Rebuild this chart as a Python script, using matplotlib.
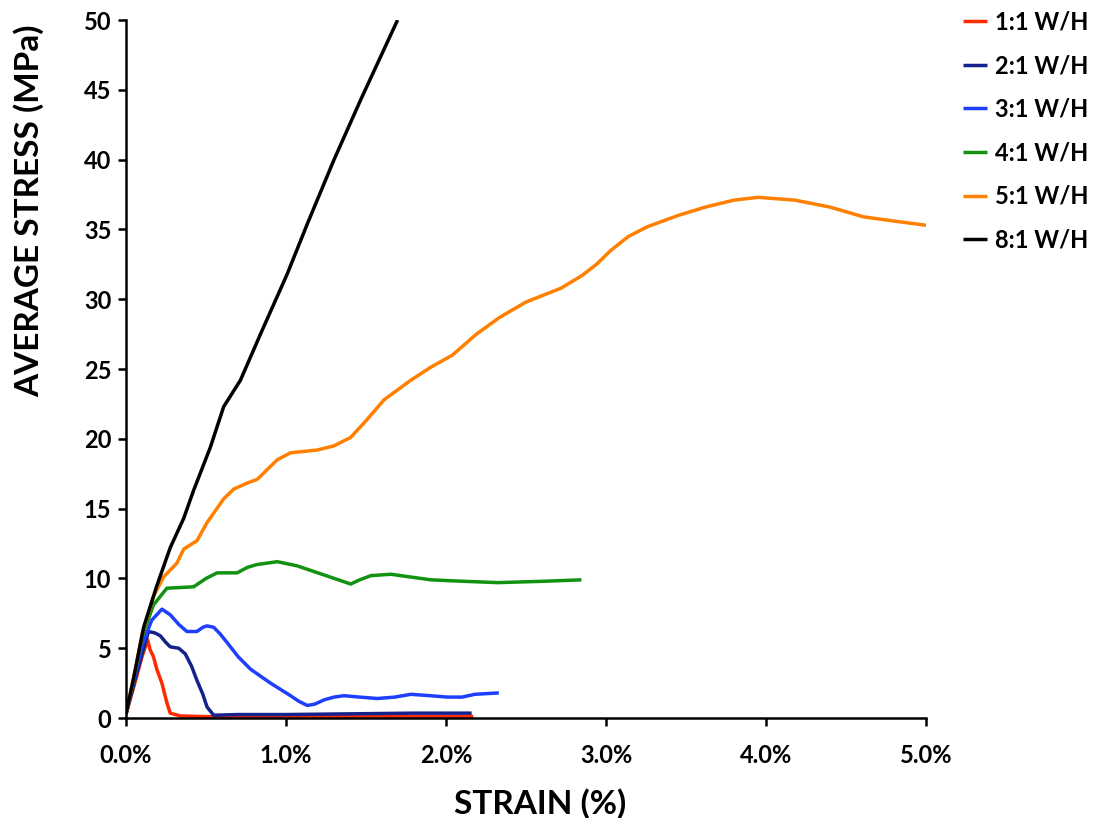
import matplotlib
matplotlib.use("Agg")
import matplotlib.pyplot as plt
from matplotlib.ticker import FuncFormatter

plt.rcParams['font.family'] = ['Lato', 'DejaVu Sans']
plt.rcParams['font.weight'] = 'bold'

# ---- data (strain in %, stress in MPa) ----
labels = ["1:1 W/H", "2:1 W/H", "3:1 W/H", "4:1 W/H", "5:1 W/H", "8:1 W/H"]
colors = ["#ff2a00", "#14228c", "#1f3fff", "#119311", "#ff8000", "#000000"]

s11_x = [0.0, 0.05, 0.10, 0.135, 0.15, 0.171, 0.192, 0.224, 0.255, 0.276, 0.34, 0.5, 1.0, 1.5, 2.17]
s11_y = [0.3, 2.3, 4.4, 5.6, 4.9, 4.4, 3.5, 2.5, 1.1, 0.35, 0.15, 0.1, 0.1, 0.1, 0.12]

s21_x = [0.0, 0.05, 0.10, 0.14, 0.18, 0.213, 0.25, 0.276, 0.329, 0.37, 0.41, 0.443, 0.48, 0.506, 0.548,
         0.7, 1.0, 1.4, 1.8, 2.16]
s21_y = [0.3, 2.5, 4.6, 6.2, 6.1, 5.9, 5.4, 5.1, 5.0, 4.6, 3.7, 2.7, 1.7, 0.8, 0.2,
         0.25, 0.25, 0.3, 0.35, 0.35]

s31_x = [0.0, 0.05, 0.10, 0.16, 0.224, 0.276, 0.33, 0.38, 0.443, 0.48, 0.506, 0.548, 0.59, 0.632, 0.7,
         0.778, 0.903, 1.028, 1.08, 1.133, 1.18, 1.237, 1.3, 1.362, 1.46, 1.57, 1.68, 1.78, 1.9, 2.01,
         2.1, 2.18, 2.33]
s31_y = [0.3, 2.8, 5.2, 7.0, 7.8, 7.4, 6.7, 6.2, 6.2, 6.5, 6.6, 6.5, 6.0, 5.4, 4.4,
         3.5, 2.5, 1.6, 1.2, 0.9, 1.0, 1.3, 1.5, 1.6, 1.5, 1.4, 1.5, 1.7, 1.6, 1.5,
         1.5, 1.7, 1.8]

s41_x = [0.0, 0.05, 0.10, 0.171, 0.255, 0.422, 0.5, 0.569, 0.694, 0.76, 0.82, 0.945, 1.07, 1.25, 1.404,
         1.46, 1.53, 1.655, 1.78, 1.906, 2.1, 2.324, 2.616, 2.846]
s41_y = [0.3, 3.0, 5.8, 8.1, 9.3, 9.4, 10.0, 10.4, 10.4, 10.8, 11.0, 11.2, 10.9, 10.2, 9.6,
         9.9, 10.2, 10.3, 10.1, 9.9, 9.8, 9.7, 9.8, 9.9]

s51_x = [0.0, 0.05, 0.10, 0.171, 0.234, 0.318, 0.36, 0.443, 0.506, 0.61, 0.673, 0.75, 0.82, 0.945, 1.028,
         1.196, 1.3, 1.404, 1.5, 1.613, 1.78, 1.9, 2.04, 2.19, 2.335, 2.5, 2.72, 2.85, 2.94, 3.03, 3.14,
         3.26, 3.45, 3.62, 3.8, 3.95, 4.18, 4.4, 4.61, 4.8, 5.0]
s51_y = [0.3, 3.0, 6.0, 8.7, 10.1, 11.1, 12.1, 12.7, 14.0, 15.7, 16.4, 16.8, 17.1, 18.5, 19.0,
         19.2, 19.5, 20.1, 21.3, 22.8, 24.2, 25.1, 26.0, 27.5, 28.7, 29.8, 30.8, 31.7, 32.5, 33.5, 34.5,
         35.2, 36.0, 36.6, 37.1, 37.3, 37.1, 36.6, 35.9, 35.6, 35.3]

s81_x = [0.0, 0.05, 0.11, 0.19, 0.276, 0.36, 0.422, 0.527, 0.61, 0.715, 0.84, 1.007, 1.133, 1.30,
         1.467, 1.697]
s81_y = [0.3, 3.0, 6.5, 9.4, 12.2, 14.3, 16.3, 19.4, 22.3, 24.2, 27.5, 31.8, 35.4, 40.0,
         44.3, 50.0]

series_x = [s11_x, s21_x, s31_x, s41_x, s51_x, s81_x]
series_y = [s11_y, s21_y, s31_y, s41_y, s51_y, s81_y]

x_ticks = [0, 1, 2, 3, 4, 5]
y_ticks = [0, 5, 10, 15, 20, 25, 30, 35, 40, 45, 50]

fig = plt.figure(figsize=(10.99, 8.18), dpi=100)
ax = fig.add_axes([0.1147, 0.1222, 0.7279, 0.8533])

handles = []
for i in range(len(labels)):
    h, = ax.plot(series_x[i], series_y[i], color=colors[i], lw=2.5, label=labels[i],
                 solid_joinstyle='round', solid_capstyle='butt')
    handles.append(h)

ax.set_xlim(0, 5)
ax.set_ylim(0, 50)
ax.set_xticks(x_ticks)
ax.set_yticks(y_ticks)
ax.xaxis.set_major_formatter(FuncFormatter(lambda v, p: f"{v:.1f}%"))

for s in ['top', 'right']:
    ax.spines[s].set_visible(False)
for s in ['left', 'bottom']:
    ax.spines[s].set_linewidth(1.8)
    ax.spines[s].set_color('black')

ax.tick_params(axis='both', direction='out', length=5.5, width=1.8, labelsize=17, colors='black')
ax.tick_params(axis='x', pad=13)
ax.tick_params(axis='y', pad=5)
for lab in ax.get_xticklabels() + ax.get_yticklabels():
    lab.set_fontweight('bold')

ax.set_xlabel("STRAIN (%)", fontsize=24, fontweight='bold')
ax.xaxis.set_label_coords(0.517, -0.100)
ax.set_ylabel("AVERAGE STRESS (MPa)", fontsize=24, fontweight='bold')
ax.yaxis.set_label_coords(-0.102, 0.727)

leg = fig.legend(handles=handles, labels=labels, loc='upper left', bbox_to_anchor=(0.857, 1.013),
                 frameon=False, handlelength=1.0, handletextpad=0.35,
                 labelspacing=0.87, prop={'weight': 'bold', 'size': 17})

fig.savefig("out.png", dpi=100, facecolor='white')
